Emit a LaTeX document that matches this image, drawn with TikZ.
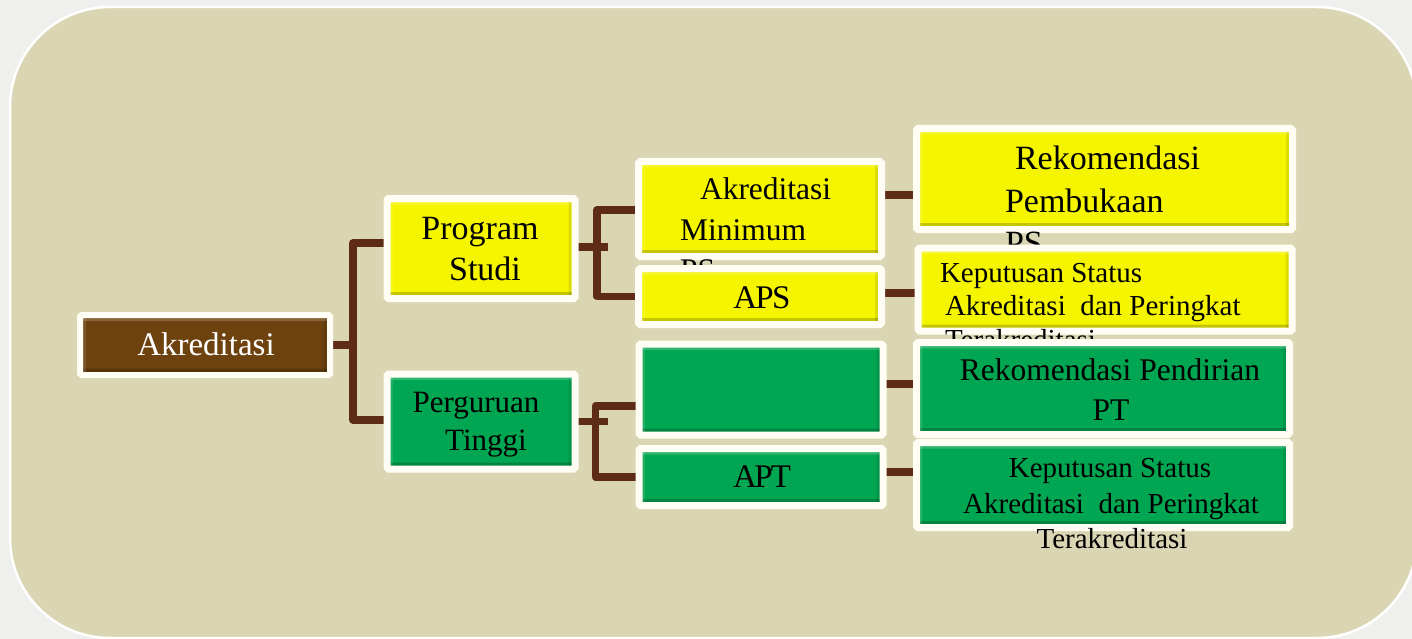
\documentclass[tikz,border=0pt]{standalone}
\usepackage{fontspec}
\setmainfont{Liberation Serif}
\usetikzlibrary{calc}

\definecolor{paper}{HTML}{EFEFEE}
\definecolor{panel}{HTML}{DAD5B3}
\definecolor{boxyellow}{HTML}{F6F500}
\definecolor{boxgreen}{HTML}{00A651}
\definecolor{boxbrown}{HTML}{6E420F}
\definecolor{linkbrown}{HTML}{5E2B16}
\definecolor{frame}{HTML}{FFFDF4}

\pgfdeclarelayer{back}
\pgfdeclarelayer{links}
\pgfsetlayers{back,links,main}

\tikzset{
  box/.style={rectangle, inner sep=0pt, outer sep=0pt, draw=frame, line width=7pt,
    rounded corners=1.5pt,
    path picture={
      \fill[black, opacity=0.20] (path picture bounding box.south west) rectangle
        ([yshift=6.5pt]path picture bounding box.south east);
      \fill[black, opacity=0.10] (path picture bounding box.south east) rectangle
        ([xshift=-6.5pt]path picture bounding box.north east);
      \fill[white, opacity=0.18] (path picture bounding box.north west) rectangle
        ([yshift=-6pt]path picture bounding box.north east);
      \fill[white, opacity=0.10] (path picture bounding box.north west) rectangle
        ([xshift=6pt]path picture bounding box.south west);
    }},
  ybox/.style={box, fill=boxyellow},
  gbox/.style={box, fill=boxgreen},
  bbox/.style={box, fill=boxbrown, line width=6pt},
  conn/.style={draw=linkbrown, line width=7.5pt, line join=round},
  lbl/.style={inner sep=0pt, outer sep=0pt, text=black},
  big/.style={font=\fontsize{34}{40}\selectfont},
  mid/.style={font=\fontsize{31.5}{40}\selectfont},
  small/.style={font=\fontsize{29}{34}\selectfont},
}

\begin{document}
\begin{tikzpicture}[x=1pt, y=-1pt]
  \useasboundingbox (0,0) rectangle (1412,639);
  \clip (0,0) rectangle (1412,639);

  % page and rounded panel
  \begin{pgfonlayer}{back}
    \fill[paper] (0,0) rectangle (1412,639);
    \draw[fill=panel, draw=white, line width=2.5pt, rounded corners=100pt]
      (10,7) rectangle (1417,638);
  \end{pgfonlayer}

  % root
  \node[bbox, minimum width=250pt, minimum height=60pt] (akr) at (205,345) {};
  \node[lbl, text=white, font=\fontsize{33}{40}\selectfont, anchor=base] (akr-t) at (206,355) {Akreditasi};

  % second level
  \node[ybox, minimum width=188pt, minimum height=100pt] (ps) at (481,248.5) {};
  \node[lbl, big, anchor=base] (ps-t1) at (480,239) {Program};
  \node[lbl, big, anchor=base] (ps-t2) at (485,280) {Studi};

  \node[gbox, minimum width=188pt, minimum height=95pt] (pt) at (481,421.5) {};
  \node[lbl, font=\fontsize{31}{38}\selectfont, anchor=base] (pt-t1) at (476,412) {Perguruan};
  \node[lbl, font=\fontsize{31}{38}\selectfont, anchor=base] (pt-t2) at (486,450) {Tinggi};

  % third level, study programme branch
  \node[ybox, minimum width=243pt, minimum height=95pt] (am) at (760,209) {};
  \node[lbl, mid, anchor=base west] (am-t1) at (700,200) {Akreditasi};
  \node[lbl, mid, anchor=base west] (am-t2) at (680,240) {Minimum};
  \node[lbl, mid, anchor=base west] (am-t3) at (680,280) {PS};

  \node[ybox, minimum width=243pt, minimum height=56pt] (aps) at (760,296.5) {};
  \node[lbl, font=\fontsize{33}{40}\selectfont, anchor=base] (aps-t) at (762,308) {A\kern-2pt P\kern-1.5pt S};

  % third level, institution branch
  \node[gbox, minimum width=244pt, minimum height=91pt] (gt) at (761,389.5) {};

  \node[gbox, minimum width=244pt, minimum height=57pt] (apt) at (761,477) {};
  \node[lbl, font=\fontsize{33}{40}\selectfont, anchor=base] (apt-t) at (762,487) {A\kern-2.5pt P\kern-2pt T};

  % outcomes
  \node[ybox, minimum width=376pt, minimum height=101pt] (rp) at (1104.5,179) {};
  \node[lbl, big, anchor=base west] (rp-t1) at (1015,170) {Rekomendasi};
  \node[lbl, big, anchor=base west] (rp-t2) at (1005,212) {Pembukaan};
  \node[lbl, big, anchor=base west] (rp-t3) at (1005,254) {PS};

  \node[ybox, minimum width=374pt, minimum height=83pt] (kp) at (1105,289.5) {};
  \node[lbl, small, anchor=base west] (kp-t1) at (940,282) {Keputusan Status};
  \node[lbl, small, anchor=base west] (kp-t2) at (945,315) {Akreditasi\ \ dan Peringkat};
  \node[lbl, small, anchor=base west] (kp-t3) at (945,349) {Terakreditasi};

  \node[gbox, minimum width=373pt, minimum height=92pt] (rpt) at (1103,388.5) {};
  \node[lbl, mid, anchor=base] (rpt-t1) at (1110,380) {Rekomendasi Pendirian};
  \node[lbl, mid, anchor=base] (rpt-t2) at (1111,420) {PT};

  \node[gbox, minimum width=373pt, minimum height=85pt] (kpg) at (1103,485) {};
  \node[lbl, small, anchor=base] (kpg-t1) at (1110,477) {Keputusan Status};
  \node[lbl, small, anchor=base] (kpg-t2) at (1111,513) {Akreditasi\ \ dan Peringkat};
  \node[lbl, small, anchor=base] (kpg-t3) at (1112,548) {Terakreditasi};

  \begin{pgfonlayer}{links}
    % root to second level
    \draw[conn] (akr.east) -- ++(24,0);
    \draw[conn] ([yshift=5.5pt]ps.west) -- ++(-34,0) |- ([yshift=1.5pt]pt.west);

    % study programme fork
    \draw[conn] ([yshift=1.5pt]ps.east) -- ++(33,0);
    \draw[conn] ([yshift=-1pt]am.west) -- ++(-41.5,0) |- (aps.west);

    % institution fork
    \draw[conn] (pt.east) -- ++(33,0);
    \draw[conn] ([yshift=-16.5pt]gt.west) -- ++(-43.5,0) |- (apt.west);

    % third level to outcomes
    \draw[conn] ([yshift=14pt]am.east) -- ([yshift=14pt]am.east -| rp.west);
    \draw[conn] ([yshift=3.5pt]aps.east) -- ([yshift=3.5pt]aps.east -| kp.west);
    \draw[conn] ([yshift=5.5pt]gt.east) -- ([yshift=5.5pt]gt.east -| rpt.west);
    \draw[conn] ([yshift=5pt]apt.east) -- ([yshift=5pt]apt.east -| kpg.west);
  \end{pgfonlayer}
\end{tikzpicture}
\end{document}
